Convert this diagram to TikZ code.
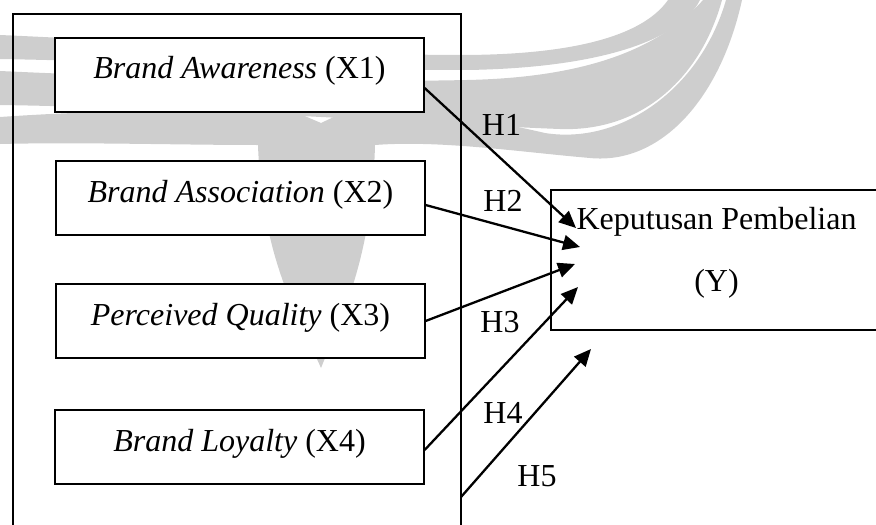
\documentclass[tikz,border=0pt]{standalone}
\usepackage{fontspec}
\setmainfont{Liberation Serif}
\usetikzlibrary{arrows.meta}
\definecolor{wm}{RGB}{206,206,206}
\begin{document}
\begin{tikzpicture}[x=0.5pt,y=-0.5pt,
  varbox/.style={draw,line width=0.6pt,fill=white,minimum width=184.5pt,minimum height=37pt,inner sep=0pt,font=\fontsize{16}{19}\selectfont,text height=12pt,text depth=8pt},
  ybox/.style={draw,line width=0.6pt,fill=white,minimum width=169.5pt,minimum height=70pt,inner sep=0pt},
  lbl/.style={font=\fontsize{16}{19}\selectfont,anchor=base,inner sep=0pt},
  hyp/.style={line width=1.15pt,-{Triangle[length=8.5pt,width=7.5pt]}},
  framepath/.style={line width=1.1pt},
  wmark/.style={fill=wm,draw=none}]
\useasboundingbox (0,0) rectangle (876,524);
\clip (0,0) rectangle (876,524);
% watermark
\path[wmark] (0,35) .. controls (160,42) and (330,55) .. (460,55) .. controls (560,55) and (640,40) .. (668,0) -- (700,0) .. controls (680,40) and (600,68) .. (467,70) .. controls (330,70) and (160,62) .. (0,59) -- cycle;
\path[wmark] (0,71) .. controls (150,78) and (330,83) .. (467,80) .. controls (560,78) and (650,60) .. (703,0) -- (722,0) .. controls (700,80) and (640,132) .. (560,129) .. controls (450,125) and (200,108) .. (0,105) -- cycle;
\path[wmark] (0,117) .. controls (100,110) and (230,108) .. (300,114) -- (321,123) -- (340,114) .. controls (420,108) and (480,118) .. (545,133) .. controls (620,145) and (700,90) .. (726,0) -- (742,0) .. controls (720,100) and (660,165) .. (590,158) .. controls (520,152) and (440,140) .. (375,145) .. controls (372,260) and (340,320) .. (321,368) .. controls (300,320) and (262,260) .. (258,145) .. controls (180,145) and (80,142) .. (0,144) -- cycle;
% frame
\draw[framepath] (13,530) -- (13,14) -- (461,14) -- (461,530);
\coordinate (h5s) at (461,497);
% variable boxes
\node[varbox] (x1) at (239.5,75) {\textit{Brand Awareness} (X1)};
\node[varbox] (x2) at (240.5,198) {\textit{Brand Association} (X2)};
\node[varbox] (x3) at (240.5,321) {\textit{Perceived Quality} (X3)};
\node[varbox] (x4) at (239.5,447) {\textit{Brand Loyalty} (X4)};
% dependent box
\node[ybox] (y) at (720.5,260) {};
\node[lbl] (ky) at (716.5,229) {Keputusan Pembelian};
\node[lbl] (yy) at (716.5,291) {(Y)};
% arrow tips
\coordinate (t1) at (576,228);
\coordinate (t2) at (580,247);
\coordinate (t3) at (575,264);
\coordinate (t4) at (578,287);
\coordinate (t5) at (591,349);
\draw[hyp] ([yshift=-6.5pt]x1.east) -- (t1);
\draw[hyp] ([yshift=-3.5pt]x2.east) -- (t2);
\draw[hyp] (x3.east) -- (t3);
\draw[hyp] ([yshift=-1.5pt]x4.east) -- (t4);
\draw[hyp] (h5s) -- (t5);
% labels
\node[lbl] (h1) at (501.5,135) {H1};
\node[lbl] (h2) at (503,211) {H2};
\node[lbl] (h3) at (500,332) {H3};
\node[lbl] (h4) at (503,423) {H4};
\node[lbl] (h5) at (537,486) {H5};
\end{tikzpicture}
\end{document}
